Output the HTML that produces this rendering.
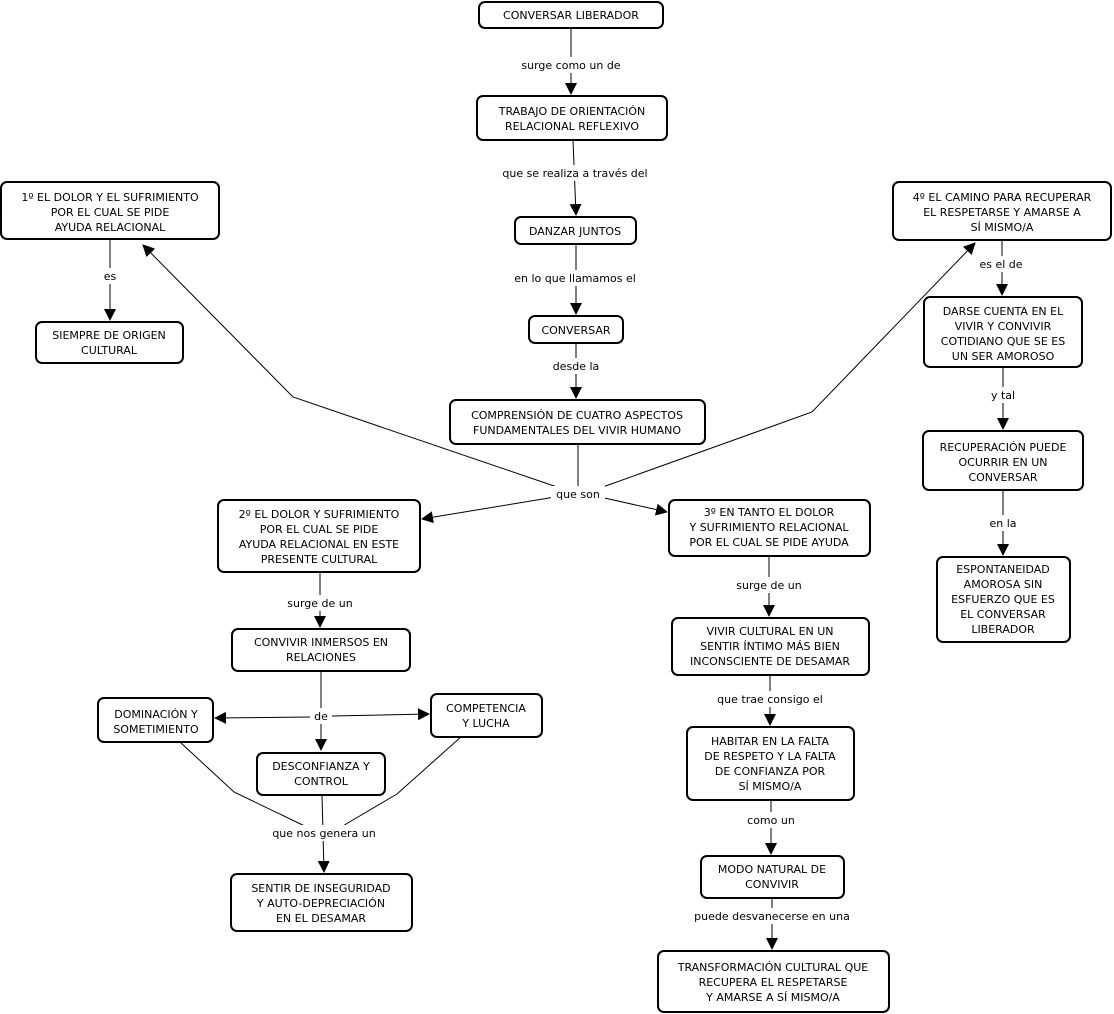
<!DOCTYPE html>
<html><head><meta charset="utf-8"><style>
html,body{margin:0;padding:0;background:#fff;width:1114px;height:1014px;overflow:hidden}
svg{display:block}
text{font-family:"DejaVu Sans","Liberation Sans",sans-serif;font-size:11px;fill:#000;text-anchor:middle}
rect{fill:#fff;stroke:#000;stroke-width:2}
.l{fill:none;stroke:#000;stroke-width:1}
.lb{fill:#fff;stroke:none}
</style></head><body>
<svg width="1114" height="1014" xmlns="http://www.w3.org/2000/svg">
<defs><marker id="a" markerWidth="12" markerHeight="12" refX="11" refY="6" orient="auto" markerUnits="userSpaceOnUse"><path d="M0,0 L12,6 L0,12 z" fill="#000"/></marker></defs>
<!-- connectors -->
<g class="l">
<path d="M571,28 V94" marker-end="url(#a)"/>
<path d="M573,140 L576,215" marker-end="url(#a)"/>
<path d="M576,244 V314" marker-end="url(#a)"/>
<path d="M576,343 V398" marker-end="url(#a)"/>
<path d="M578,444 V488"/>
<path d="M560,488 L293,397 L143,245" marker-end="url(#a)"/>
<path d="M600,488 L812,412 L975,243" marker-end="url(#a)"/>
<path d="M555,497 L422,519" marker-end="url(#a)"/>
<path d="M600,497 L667,512" marker-end="url(#a)"/>
<path d="M110,239 V320" marker-end="url(#a)"/>
<path d="M1002,240 V295" marker-end="url(#a)"/>
<path d="M1003,367 V429" marker-end="url(#a)"/>
<path d="M1003,490 V555" marker-end="url(#a)"/>
<path d="M320,572 V627" marker-end="url(#a)"/>
<path d="M321,671 V750" marker-end="url(#a)"/>
<path d="M310,717 L215,718" marker-end="url(#a)"/>
<path d="M332,716 L429,714" marker-end="url(#a)"/>
<path d="M181,743 L234,792 L313,830"/>
<path d="M462,736 L397,794 L336,830"/>
<path d="M322,795 L324,872" marker-end="url(#a)"/>
<path d="M769,556 V616" marker-end="url(#a)"/>
<path d="M770,675 V725" marker-end="url(#a)"/>
<path d="M771,800 V854" marker-end="url(#a)"/>
<path d="M772,898 V949" marker-end="url(#a)"/>
</g>
<!-- labels -->
<g>
<rect class="lb" x="512" y="57" width="118" height="16"/><text x="571" y="69">surge como un de</text>
<rect class="lb" x="492" y="165" width="166" height="16"/><text x="575" y="177">que se realiza a través del</text>
<rect class="lb" x="508" y="270" width="136" height="16"/><text x="575" y="282">en lo que llamamos el</text>
<rect class="lb" x="548" y="358" width="56" height="16"/><text x="576" y="370">desde la</text>
<rect class="lb" x="551" y="486" width="54" height="16"/><text x="578" y="498">que son</text>
<rect class="lb" x="100" y="268" width="20" height="16"/><text x="110" y="280">es</text>
<rect class="lb" x="974" y="256" width="54" height="16"/><text x="1001" y="268">es el de</text>
<rect class="lb" x="986" y="387" width="34" height="16"/><text x="1003" y="399">y tal</text>
<rect class="lb" x="984" y="515" width="38" height="16"/><text x="1003" y="527">en la</text>
<rect class="lb" x="282" y="595" width="76" height="16"/><text x="320" y="607">surge de un</text>
<rect class="lb" x="310" y="708" width="22" height="16"/><text x="321" y="720">de</text>
<rect class="lb" x="266" y="825" width="116" height="16"/><text x="324" y="837">que nos genera un</text>
<rect class="lb" x="731" y="577" width="76" height="16"/><text x="769" y="589">surge de un</text>
<rect class="lb" x="708" y="691" width="124" height="16"/><text x="770" y="703">que trae consigo el</text>
<rect class="lb" x="742" y="812" width="58" height="16"/><text x="771" y="824">como un</text>
<rect class="lb" x="686" y="908" width="172" height="16"/><text x="772" y="920">puede desvanecerse en una</text>
</g>
<!-- nodes -->
<g>
<rect x="479" y="2" width="184" height="26" rx="6"/><text x="571" y="19">CONVERSAR LIBERADOR</text>
<rect x="477" y="96" width="190" height="44" rx="6"/><text x="572" y="115">TRABAJO DE ORIENTACIÓN</text><text x="572" y="130">RELACIONAL REFLEXIVO</text>
<rect x="515" y="217" width="121" height="27" rx="6"/><text x="575" y="235">DANZAR JUNTOS</text>
<rect x="529" y="316" width="94" height="27" rx="6"/><text x="576" y="334">CONVERSAR</text>
<rect x="450" y="400" width="255" height="44" rx="6"/><text x="577" y="419">COMPRENSIÓN DE CUATRO ASPECTOS</text><text x="577" y="434">FUNDAMENTALES DEL VIVIR HUMANO</text>
<rect x="1" y="182" width="218" height="57" rx="6"/><text x="110" y="201">1º EL DOLOR Y EL SUFRIMIENTO</text><text x="110" y="216">POR EL CUAL SE PIDE</text><text x="110" y="231">AYUDA RELACIONAL</text>
<rect x="36" y="322" width="147" height="41" rx="6"/><text x="109" y="339">SIEMPRE DE ORIGEN</text><text x="109" y="354">CULTURAL</text>
<rect x="893" y="182" width="218" height="58" rx="6"/><text x="1002" y="201">4º EL CAMINO PARA RECUPERAR</text><text x="1002" y="216">EL RESPETARSE Y AMARSE A</text><text x="1002" y="231">SÍ MISMO/A</text>
<rect x="924" y="297" width="158" height="70" rx="6"/><text x="1003" y="315">DARSE CUENTA EN EL</text><text x="1003" y="330">VIVIR Y CONVIVIR</text><text x="1003" y="345">COTIDIANO QUE SE ES</text><text x="1003" y="360">UN SER AMOROSO</text>
<rect x="923" y="431" width="160" height="59" rx="6"/><text x="1003" y="451">RECUPERACIÓN PUEDE</text><text x="1003" y="466">OCURRIR EN UN</text><text x="1003" y="481">CONVERSAR</text>
<rect x="937" y="557" width="133" height="85" rx="6"/><text x="1003" y="573">ESPONTANEIDAD</text><text x="1003" y="588">AMOROSA SIN</text><text x="1003" y="603">ESFUERZO QUE ES</text><text x="1003" y="618">EL CONVERSAR</text><text x="1003" y="633">LIBERADOR</text>
<rect x="218" y="500" width="202" height="72" rx="6"/><text x="319" y="518">2º  EL DOLOR Y SUFRIMIENTO</text><text x="319" y="533">POR EL CUAL SE PIDE</text><text x="319" y="548">AYUDA RELACIONAL EN ESTE</text><text x="319" y="563">PRESENTE CULTURAL</text>
<rect x="669" y="500" width="201" height="56" rx="6"/><text x="769" y="516">3º EN TANTO EL DOLOR</text><text x="769" y="531">Y SUFRIMIENTO RELACIONAL</text><text x="769" y="546">POR EL  CUAL SE PIDE AYUDA</text>
<rect x="232" y="629" width="178" height="42" rx="6"/><text x="321" y="646">CONVIVIR INMERSOS EN</text><text x="321" y="661">RELACIONES</text>
<rect x="98" y="698" width="115" height="44" rx="6"/><text x="156" y="718">DOMINACIÓN Y</text><text x="156" y="733">SOMETIMIENTO</text>
<rect x="431" y="694" width="111" height="43" rx="6"/><text x="486" y="712">COMPETENCIA</text><text x="486" y="727">Y LUCHA</text>
<rect x="257" y="753" width="128" height="42" rx="6"/><text x="321" y="770">DESCONFIANZA Y</text><text x="321" y="785">CONTROL</text>
<rect x="231" y="874" width="181" height="57" rx="6"/><text x="321" y="892">SENTIR DE INSEGURIDAD</text><text x="321" y="907">Y AUTO-DEPRECIACIÓN</text><text x="321" y="922">EN EL DESAMAR</text>
<rect x="672" y="618" width="197" height="57" rx="6"/><text x="770" y="635">VIVIR CULTURAL EN UN</text><text x="770" y="650">SENTIR ÍNTIMO MÁS BIEN</text><text x="770" y="665">INCONSCIENTE DE DESAMAR</text>
<rect x="687" y="727" width="167" height="73" rx="6"/><text x="770" y="745">HABITAR EN LA FALTA</text><text x="770" y="760">DE RESPETO Y LA FALTA</text><text x="770" y="775">DE CONFIANZA POR</text><text x="770" y="790">SÍ MISMO/A</text>
<rect x="701" y="856" width="143" height="42" rx="6"/><text x="772" y="873">MODO NATURAL DE</text><text x="772" y="888">CONVIVIR</text>
<rect x="658" y="951" width="231" height="61" rx="6"/><text x="773" y="971">TRANSFORMACIÓN CULTURAL QUE</text><text x="773" y="986">RECUPERA EL RESPETARSE</text><text x="773" y="1001">Y AMARSE A SÍ MISMO/A</text>
</g>
</svg>
</body></html>
